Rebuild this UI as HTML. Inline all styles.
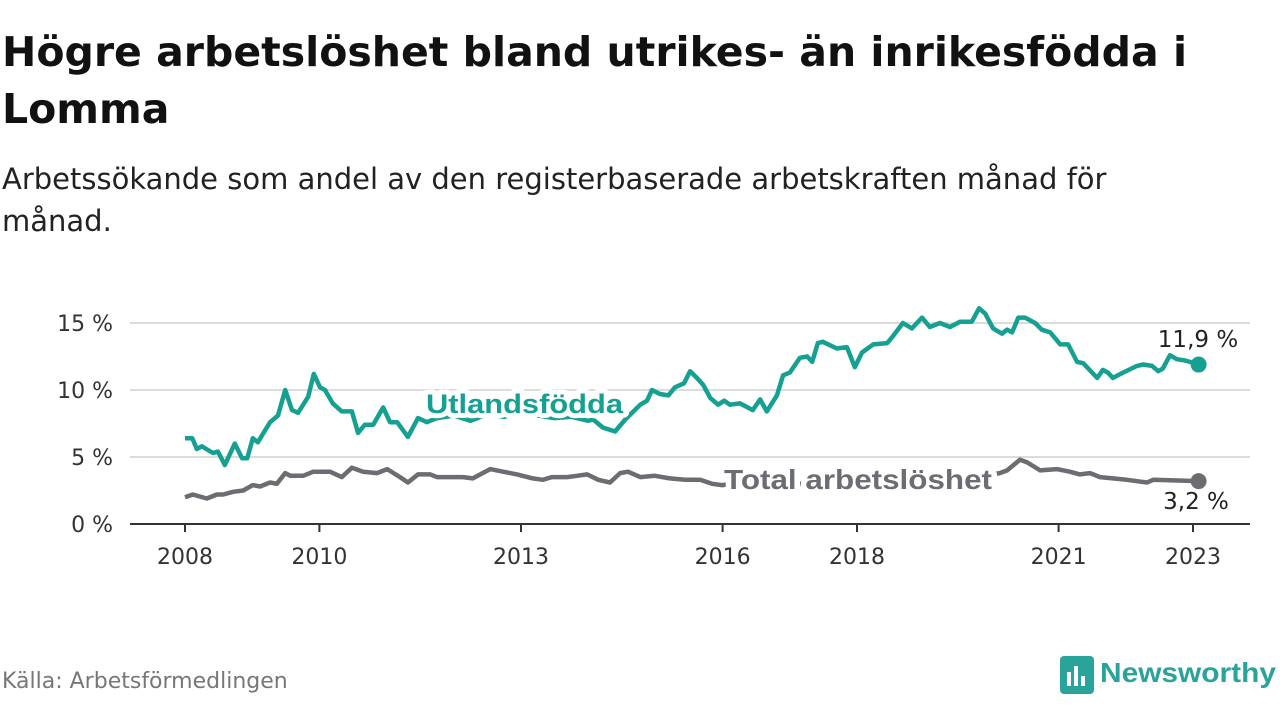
<!DOCTYPE html>
<html><head><meta charset="utf-8">
<style>
body{margin:0;width:1280px;height:720px;background:#fff;font-family:"Liberation Sans","DejaVu Sans",sans-serif;overflow:hidden;position:relative}
#title{position:absolute;left:2px;top:24px;font-family:"DejaVu Sans",sans-serif;font-size:41px;font-weight:bold;line-height:57px;color:#111;margin:0;width:1230px}
#sub{position:absolute;left:2px;top:158px;font-family:"DejaVu Sans",sans-serif;font-size:29px;line-height:42px;color:#222;margin:0;width:1180px}
#src{position:absolute;left:2px;top:669px;font-family:"DejaVu Sans",sans-serif;font-size:22px;color:#777}
</style></head><body>
<h1 id="title">Högre arbetslöshet bland utrikes- än inrikesfödda i Lomma</h1>
<p id="sub">Arbetssökande som andel av den registerbaserade arbetskraften månad för månad.</p>
<div id="src">Källa: Arbetsförmedlingen</div>
<svg id="chart" width="1280" height="720" style="position:absolute;left:0;top:0">
<g>
<rect x="1060" y="656" width="34" height="38" rx="4" fill="#2aa39a"/>
<rect x="1067" y="672" width="4" height="14" fill="#fff"/><rect x="1074" y="666" width="4" height="20" fill="#fff"/><rect x="1081" y="676" width="4" height="10" fill="#fff"/>
<text x="1100" y="682" font-size="28" font-weight="bold" fill="#2aa39a" font-family="Liberation Sans, sans-serif" textLength="176" lengthAdjust="spacingAndGlyphs">Newsworthy</text>
</g>
</svg>
<script>
const yTicks=[0,5,10,15];
const yTickLabels=["0 %","5 %","10 %","15 %"];
const xTickYears=[2008,2010,2013,2016,2018,2021,2023];
const utlMonths=[0,1.3,2.1,3,5,5.9,7.1,8.9,10.2,11.1,12.1,13,15.2,16.6,17.9,19.1,20.2,22,23,24.1,25,26.4,28,29.8,30.9,32.1,33.6,35.4,36.6,37.9,39.8,41.6,43.2,45,48,51,54,57,60,63,66,69,72,72.9,74.6,76.8,78.6,81.3,82.5,83.4,84.8,86.3,87.5,89.1,90.2,91.4,92.5,93.8,95.2,96.3,97.3,99.1,101.4,102.7,103.9,105.7,106.8,108,109.8,111.1,112,113,113.9,116.4,118.2,119.6,120.9,122.9,125.4,126.4,128.2,129.8,131.6,133,134.8,136.6,138.4,140.5,141.8,142.9,144.3,145.9,146.8,147.7,148.8,150,151.8,153,154.5,156.3,157.7,159.3,160.4,162.9,163.9,164.8,165.7,167.5,170,171.1,172.7,173.8,174.6,175.9,177.1,178.6,181];
const utlValues=[6.4,6.4,5.6,5.8,5.3,5.4,4.4,6.0,4.9,4.9,6.4,6.1,7.6,8.1,10.0,8.5,8.3,9.5,11.2,10.2,10.0,9.0,8.4,8.4,6.8,7.4,7.4,8.7,7.6,7.6,6.5,7.9,7.6,7.9,8.1,7.7,8.2,8.0,8.4,8.1,7.9,8.0,7.7,7.8,7.2,6.9,7.8,8.9,9.2,10.0,9.7,9.6,10.2,10.5,11.4,10.9,10.4,9.4,8.9,9.2,8.9,9.0,8.5,9.3,8.4,9.6,11.1,11.3,12.4,12.5,12.1,13.5,13.6,13.1,13.2,11.7,12.8,13.4,13.5,14.0,15.0,14.6,15.4,14.7,15.0,14.7,15.1,15.1,16.1,15.7,14.6,14.2,14.5,14.3,15.4,15.4,15.0,14.5,14.3,13.4,13.4,12.1,12.0,10.9,11.5,11.3,10.9,11.3,11.8,11.9,11.8,11.4,11.6,12.6,12.3,12.2,11.9];
const totMonths=[0,1.4,3.9,5.7,6.8,8.6,10.4,12.1,13.4,15.2,16.4,17.9,18.8,21.1,22.9,25.9,28,29.8,31.8,34.3,36.1,38.4,39.8,41.6,43.8,45,47.9,49.6,51.4,54.5,56.8,59.3,62.1,63.9,65.5,68.2,70,71.8,73.8,75.9,77.7,79.1,81.3,83.9,86.6,89.3,92,94.1,95.9,100,105,110,115,120,125,130,135,140,145.5,146.8,149.1,150.4,152.7,155.7,158,159.8,161.6,163.4,165.7,168.2,171.8,172.9,181];
const totValues=[2.0,2.2,1.9,2.2,2.2,2.4,2.5,2.9,2.8,3.1,3.0,3.8,3.6,3.6,3.9,3.9,3.5,4.2,3.9,3.8,4.1,3.5,3.1,3.7,3.7,3.5,3.5,3.5,3.4,4.1,3.9,3.7,3.4,3.3,3.5,3.5,3.6,3.7,3.3,3.1,3.8,3.9,3.5,3.6,3.4,3.3,3.3,3.0,2.9,3.1,3.2,3.0,3.2,3.4,3.3,3.4,3.3,3.4,3.8,4.0,4.8,4.6,4.0,4.1,3.9,3.7,3.8,3.5,3.4,3.3,3.1,3.3,3.2];
const lastLabels=["11,9 %","3,2 %"];

const NS="http://www.w3.org/2000/svg";
const svg=document.getElementById('chart');
const X0=185,PX_PER_MONTH=5.6,Y0=524,PX_PER_PCT=13.4;
function xm(m){return X0+m*PX_PER_MONTH;}
function xy(yr){return xm((yr-2008)*12);}
function yv(v){return Y0-v*PX_PER_PCT;}
function mk(tag,attrs,parent){const e=document.createElementNS(NS,tag);for(const k in attrs)e.setAttribute(k,attrs[k]);(parent||svg).appendChild(e);return e;}

yTicks.forEach((t,i)=>{
  if(t>0){const g=mk('line',{x1:130,x2:1250,y1:yv(t),y2:yv(t),stroke:'#dcdcdc','stroke-width':2});
  
  }
  const l=mk('text',{x:113,y:yv(t)+8,'text-anchor':'end','font-size':22,fill:'#333','font-family':'DejaVu Sans, sans-serif'});
  l.textContent=yTickLabels[i];
  
  
});
const ax=mk('line',{x1:130,x2:1250,y1:Y0,y2:Y0,stroke:'#333','stroke-width':2});


xTickYears.forEach(yr=>{
  const x=xy(yr);
  const t=mk('line',{x1:x,x2:x,y1:Y0,y2:Y0+8,stroke:'#333','stroke-width':2});
  
  
  const l=mk('text',{x:x,y:564,'text-anchor':'middle','font-size':22,fill:'#333','font-family':'DejaVu Sans, sans-serif'});
  l.textContent=yr;
  
  
});
function line(ms,vs,color,name){
  const d=ms.map((m,i)=>(i?'L':'M')+xm(m).toFixed(1)+' '+yv(vs[i]).toFixed(1)).join(' ');
  const p=mk('path',{d:d,fill:'none',stroke:color,'stroke-width':4.5,'stroke-linejoin':'round'});
  
  
  const n=ms.length-1;
  const c=mk('circle',{cx:xm(ms[n]),cy:yv(vs[n]),r:8,fill:color});
  
  
}
line(totMonths,totValues,'#6d6c72','total-line');
line(utlMonths,utlValues,'#15a092','utlandsfodda-line');
function lab(txt,x,y,color,size,name,w){
  const t=mk('text',{x:x,y:y,'font-size':size,'font-weight':'bold',fill:color,stroke:'#fff','stroke-width':10,'paint-order':'stroke','stroke-linejoin':'round',textLength:w,lengthAdjust:'spacingAndGlyphs'});
  t.textContent=txt;
  
  
}
lab('Utlandsfödda',426,413,'#15a092',27,'utlandsfodda-label',197);
lab('Total arbetslöshet',724,489,'#6d6c72',28,'total-label',268);
const v1=mk('text',{x:1198,y:347,'text-anchor':'middle','font-size':23,fill:'#222','font-family':'DejaVu Sans, sans-serif'});
v1.textContent=lastLabels[0];


const v2=mk('text',{x:1196,y:509,'text-anchor':'middle','font-size':23,fill:'#222','font-family':'DejaVu Sans, sans-serif'});
v2.textContent=lastLabels[1];


</script>
</body></html>
